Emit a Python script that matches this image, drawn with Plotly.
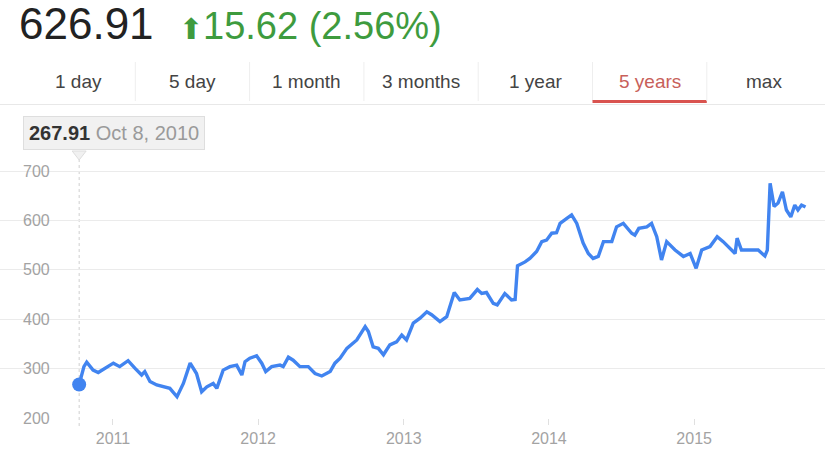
import plotly.graph_objects as go
from datetime import datetime

# ---------------- data ----------------
price_now = 626.91
change_abs = 15.62
change_pct = 2.56
tabs = ["1 day", "5 day", "1 month", "3 months", "1 year", "5 years", "max"]
active_tab = "5 years"

dates = [
    "2010-10-08", "2010-10-20", "2010-10-27", "2010-11-12", "2010-11-25", "2010-12-16",
    "2011-01-02", "2011-01-18", "2011-02-08", "2011-02-25", "2011-03-14", "2011-03-22",
    "2011-04-04", "2011-04-21", "2011-05-07", "2011-05-24", "2011-06-11", "2011-06-27",
    "2011-07-14", "2011-07-30", "2011-08-12", "2011-08-25", "2011-09-10", "2011-09-19",
    "2011-10-05", "2011-10-22", "2011-11-08", "2011-11-21", "2011-11-29", "2011-12-11",
    "2011-12-28", "2012-01-10", "2012-01-20", "2012-02-04", "2012-02-25", "2012-03-04",
    "2012-03-17", "2012-03-29", "2012-04-15", "2012-05-06", "2012-05-23", "2012-06-09",
    "2012-06-30", "2012-07-12", "2012-07-25", "2012-08-11", "2012-09-05", "2012-09-26",
    "2012-10-04", "2012-10-16", "2012-10-29", "2012-11-11", "2012-11-27", "2012-12-14",
    "2012-12-27", "2013-01-08", "2013-01-25", "2013-02-11", "2013-02-28", "2013-03-12",
    "2013-04-02", "2013-04-19", "2013-05-08", "2013-05-22", "2013-06-16", "2013-07-05",
    "2013-07-16", "2013-07-28", "2013-08-14", "2013-08-24", "2013-09-12", "2013-09-29",
    "2013-10-08", "2013-10-14", "2013-11-02", "2013-11-14", "2013-12-01", "2013-12-14",
    "2013-12-26", "2014-01-08", "2014-01-20", "2014-01-29", "2014-02-15", "2014-02-27",
    "2014-03-12", "2014-03-28", "2014-04-10", "2014-04-22", "2014-05-05", "2014-05-18",
    "2014-06-08", "2014-06-20", "2014-07-07", "2014-07-28", "2014-08-05", "2014-08-15",
    "2014-09-04", "2014-09-16", "2014-09-29", "2014-10-11", "2014-10-24", "2014-11-14",
    "2014-12-05", "2014-12-22", "2015-01-06", "2015-01-20", "2015-02-10", "2015-02-28",
    "2015-03-15", "2015-04-01", "2015-04-14", "2015-04-19", "2015-04-30", "2015-05-21",
    "2015-06-11", "2015-06-28", "2015-07-04", "2015-07-11", "2015-07-21", "2015-07-31",
    "2015-08-11", "2015-08-21", "2015-09-01", "2015-09-11", "2015-09-19", "2015-09-28",
    "2015-10-08",
]
prices = [
    267.91, 304, 313, 297, 292, 303,
    311, 304, 316, 301, 287, 294,
    274, 267, 263, 260, 243, 270,
    311, 290, 253, 263, 270, 260,
    297, 304, 307, 287, 314, 321,
    326, 311, 294, 304, 307, 304,
    323, 317, 304, 304, 290, 285,
    294, 311, 321, 341, 358, 385,
    375, 344, 341, 328, 348, 354,
    368, 358, 392, 402, 415, 409,
    395, 405, 454, 439, 442, 460,
    452, 454, 432, 429, 452, 439,
    440, 508, 516, 523, 537, 557,
    560, 574, 575, 594, 604, 611,
    594, 554, 533, 523, 527, 557,
    557, 587, 594, 574, 570, 584,
    587, 594, 567, 520, 557, 540,
    527, 533, 503, 540, 547, 567,
    557, 543, 533, 564, 540, 540,
    540, 528, 540, 675, 628, 635,
    658, 621, 607, 631, 621, 631,
    626.91,
]
y_ticks = [200, 300, 400, 500, 600, 700]
x_range = ["2010-03-23", "2015-11-26"]
y_range = [200, 742.5]

# ---------------- layout helpers (pixel -> paper) ----------------
W, H = 825, 464
PLOT_TOP, PLOT_BOTTOM = 150, 418


def px(x):
    return x / W


def py(y):
    return (PLOT_BOTTOM - y) / (PLOT_BOTTOM - PLOT_TOP)


BLUE = "#4184f0"
GREEN = "#3e9b3e"
FONT = "Arial, Liberation Sans, sans-serif"

fig = go.Figure()
fig.add_trace(go.Scatter(
    x=dates, y=prices, mode="lines",
    line=dict(color=BLUE, width=3.4), hoverinfo="skip", showlegend=False,
))
fig.add_trace(go.Scatter(
    x=[dates[0]], y=[prices[0]], mode="markers",
    marker=dict(color=BLUE, size=14), hoverinfo="skip", showlegend=False,
))

shapes = []
annotations = []

# vertical dotted guide line at the highlighted point
shapes.append(dict(type="line", xref="x", yref="paper", x0=dates[0], x1=dates[0],
                   y0=-0.03, y1=1.0, line=dict(color="#cfcfcf", width=1, dash="dot"), layer="below"))

# tooltip box
d0 = datetime.strptime(dates[0], "%Y-%m-%d")
tip_text = (f"<b>{prices[0]:.2f}</b> "
            f"<span style='color:#9a9a9a'>{d0.strftime('%b')} {d0.day}, {d0.year}</span>")
annotations.append(dict(
    xref="x", yref="paper", x=dates[0], y=py(133), xanchor="left", yanchor="middle",
    xshift=-56, text=tip_text, showarrow=False,
    font=dict(family=FONT, size=20, color="#333333"),
    bgcolor="#f1f1f1", bordercolor="#dedede", borderwidth=1, borderpad=5,
))
# tooltip pointer
shapes.append(dict(type="path", xref="x", yref="paper", xsizemode="pixel", ysizemode="pixel",
                   xanchor=dates[0], yanchor=py(152),
                   path="M -7 1 L 7 1 L 0 -8 Z",
                   fillcolor="#f1f1f1", line=dict(color="#dedede", width=1)))

# header: current price and change
annotations.append(dict(xref="paper", yref="paper", x=px(17), y=py(23), xanchor="left",
                        yanchor="middle", showarrow=False, text=f"{price_now:.2f}",
                        font=dict(family=FONT, size=44, color="#222222")))
annotations.append(dict(xref="paper", yref="paper", x=px(177), y=py(26), xanchor="left",
                        yanchor="middle", showarrow=False,
                        text=(f"<span style='font-size:29px'>\u2B06</span>"
                              f"{change_abs:.2f} ({change_pct:.2f}%)"),
                        font=dict(family=FONT, size=38, color=GREEN)))

# tab bar
TAB_X0, TAB_W = 21, 114.3
for i, t in enumerate(tabs):
    cx = TAB_X0 + TAB_W * (i + 0.5)
    is_active = (t == active_tab)
    annotations.append(dict(xref="paper", yref="paper", x=px(cx), y=py(82),
                            xanchor="center", yanchor="middle", showarrow=False, text=t,
                            font=dict(family=FONT, size=19,
                                      color="#c8605a" if is_active else "#444444")))
    if i > 0:
        sx = TAB_X0 + TAB_W * i
        shapes.append(dict(type="line", xref="paper", yref="paper", x0=px(sx), x1=px(sx),
                           y0=py(62), y1=py(101), line=dict(color="#eeeeee", width=1)))
    if is_active:
        shapes.append(dict(type="line", xref="paper", yref="paper",
                           x0=px(TAB_X0 + TAB_W * i), x1=px(TAB_X0 + TAB_W * (i + 1)),
                           y0=py(101.5), y1=py(101.5), line=dict(color="#d9534f", width=3)))
shapes.append(dict(type="line", xref="paper", yref="paper", x0=0, x1=1,
                   y0=py(104.5), y1=py(104.5), line=dict(color="#e8e8e8", width=1)))

fig.update_layout(
    width=W, height=H,
    margin=dict(l=0, r=0, t=PLOT_TOP, b=H - PLOT_BOTTOM),
    paper_bgcolor="white", plot_bgcolor="white",
    font=dict(family=FONT),
    shapes=shapes, annotations=annotations,
    xaxis=dict(
        type="date", range=x_range, showgrid=False, zeroline=False, showline=False,
        tickformat="%Y", dtick="M12", tick0="2011-01-01",
        ticks="outside", ticklen=6, tickcolor="#e0e0e0",
        tickfont=dict(family=FONT, size=16, color="#a3a3a3"),
        fixedrange=True,
    ),
    yaxis=dict(
        range=y_range, tickvals=y_ticks, showgrid=True, gridcolor="#ebebeb", gridwidth=1,
        zeroline=False, showline=False, ticks="",
        ticklabelposition="inside", ticklabelstandoff=20, ticklabeloverflow="allow",
        tickfont=dict(family=FONT, size=16, color="#a3a3a3"),
        fixedrange=True,
    ),
)

fig.write_html("out.html", config={"displayModeBar": False},
               post_script="document.body.style.margin='0px';")
